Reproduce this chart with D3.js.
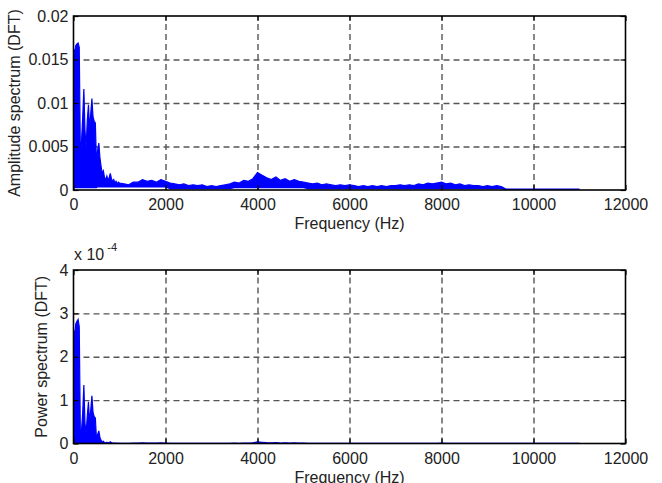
<!DOCTYPE html>
<html>
<head>
<meta charset="utf-8">
<script src="https://cdn.jsdelivr.net/npm/d3@7/dist/d3.min.js"></script>
<style>
  html, body { margin: 0; padding: 0; background: #fff; }
  svg { display: block; }
  text { font-family: "Liberation Sans", Arial, sans-serif; fill: #222; }
</style>
</head>
<body>
<svg id="chart" width="662" height="483"></svg>
<script>
// ---------------- data ----------------
const freq = [0,25,50,75,100,125,150,175,200,225,250,275,300,325,350,375,400,425,450,475,500,525,550,575,600,625,650,675,700,725,750,775,800,825,850,875,900,925,950,975,1000,
  1100,1200,1300,1400,1500,1600,1700,1800,1900,2000,
  2100,2200,2300,2400,2500,2600,2700,2800,2900,3000,
  3100,3200,3300,3400,3500,3600,3700,3800,3900,4000,
  4100,4200,4300,4400,4500,4600,4700,4800,4900,5000,
  5100,5200,5300,5400,5500,5600,5700,5800,5900,6000,
  6100,6200,6300,6400,6500,6600,6700,6800,6900,7000,
  7100,7200,7300,7400,7500,7600,7700,7800,7900,8000,
  8100,8200,8300,8400,8500,8600,8700,8800,8900,9000,
  9100,9200,9300,9400,9500,9600,9700,9800,9900,10000,
  10100,10200,10300,10400,10500,10600,10700,10800,10900,11000];

// amplitude spectrum: upper envelope of the dense trace
const ampHigh = [0.0162,0.0158,0.0166,0.0168,0.0169,0.0164,0.0038,0.0056,0.0084,0.0116,0.0068,0.0049,0.0080,0.0098,0.0070,0.0088,0.0105,0.0084,0.0079,0.0077,0.0030,0.0046,0.0054,0.0037,0.0027,0.0019,0.0022,0.0014,0.0012,0.0016,0.0011,0.0014,0.0019,0.0013,0.0010,0.0012,0.0008,0.0010,0.0007,0.0009,0.0008,
  0.0007,0.0006,0.0009,0.0009,0.0012,0.0010,0.0011,0.0009,0.0012,0.0010,
  0.0008,0.0007,0.0006,0.0007,0.0005,0.0006,0.0005,0.0006,0.0004,0.0005,
  0.0004,0.0005,0.0006,0.0007,0.0009,0.0008,0.0011,0.0010,0.0013,0.0020,
  0.0017,0.0014,0.0012,0.0015,0.0011,0.0013,0.0010,0.0012,0.0010,0.0009,
  0.0008,0.0007,0.0008,0.0006,0.0007,0.0006,0.0005,0.0006,0.0005,0.0006,
  0.0005,0.0004,0.0005,0.0004,0.0005,0.0004,0.0005,0.0004,0.0005,0.0005,
  0.0006,0.0005,0.0006,0.0005,0.0007,0.0006,0.0008,0.0007,0.0008,0.0009,
  0.0007,0.0008,0.0006,0.0007,0.0005,0.0006,0.0005,0.0005,0.0004,0.0005,
  0.0004,0.0005,0.0004,0.0001,0.0001,0.0001,0.0001,0.0001,0.0001,0.0001,
  0.0001,0.0001,0.0001,0.0001,0.0001,0.0001,0.0001,0.0001,0.0001,0.0001];

// amplitude spectrum: lower envelope of the dense trace
const ampLow = [0.0002,0.0002,0.0002,0.0002,0.0002,0.0002,0.0002,0.0002,0.0002,0.0002,0.0002,0.0002,0.0002,0.0002,0.0002,0.0002,0.0002,0.0002,0.0002,0.0002,0.0002,0.0003,0.0003,0.0003,0.0003,0.0003,0.0003,0.0003,0.0003,0.0003,0.0003,0.0003,0.0003,0.0003,0.0003,0.0003,0.0003,0.0003,0.0003,0.0003,0.0003,
  0.0003,0.0003,0.0003,0.0003,0.0003,0.0003,0.0003,0.0003,0.0003,0.0003,
  0.0001,0.0001,0.0001,0.0001,0.0001,0.0001,0.0001,0.0001,0.0001,0.0001,
  0.0001,0.0001,0.0001,0.0001,0.0002,0.0002,0.0002,0.0002,0.0002,0.0002,
  0.0002,0.0002,0.0002,0.0002,0.0002,0.0002,0.0002,0.0002,0.0002,0.0002,
  0.0001,0.0001,0.0001,0.0001,0.0001,0.0001,0.0001,0.0001,0.0001,0.0001,
  0.0001,0.0001,0.0001,0.0001,0.0001,0.0001,0.0001,0.0001,0.0001,0.0001,
  0.0001,0.0001,0.0001,0.0001,0.0001,0.0001,0.0001,0.0001,0.0001,0.0001,
  0.0001,0.0001,0.0001,0.0001,0.0001,0.0001,0.0001,0.0001,0.0001,0.0001,
  0.0001,0.0001,0.0001,0,0,0,0,0,0,0,
  0,0,0,0,0,0,0,0,0,0];

// power spectrum (units of 1e-4): upper envelope
const powHigh = [2.62,2.50,2.76,2.82,2.86,2.69,0.14,0.31,0.71,1.35,0.46,0.24,0.64,0.96,0.49,0.77,1.10,0.71,0.62,0.59,0.09,0.21,0.29,0.14,0.07,0.04,0.05,0.02,0.01,0.03,0.01,0.02,0.04,0.02,0.01,0.01,0.01,0.01,0.005,0.008,0.006,
  0.005,0.004,0.008,0.008,0.014,0.010,0.012,0.008,0.014,0.010,
  0.006,0.005,0.004,0.005,0.003,0.004,0.003,0.004,0.002,0.003,
  0.002,0.003,0.004,0.005,0.008,0.006,0.012,0.010,0.017,0.040,
  0.029,0.020,0.014,0.023,0.012,0.017,0.010,0.014,0.010,0.008,
  0.006,0.005,0.006,0.004,0.005,0.004,0.003,0.004,0.003,0.004,
  0.003,0.002,0.003,0.002,0.003,0.002,0.003,0.002,0.003,0.003,
  0.004,0.003,0.004,0.003,0.005,0.004,0.006,0.005,0.006,0.008,
  0.005,0.006,0.004,0.005,0.003,0.004,0.003,0.003,0.002,0.003,
  0.002,0.003,0.002,0.001,0.001,0.001,0.001,0.001,0.001,0.001,
  0.001,0.001,0.001,0.001,0.001,0.001,0.001,0.001,0.001,0.001];

const xTicks = [0,2000,4000,6000,8000,10000,12000];
const ampTicks = [0,0.005,0.01,0.015,0.02];
const ampTickLabels = ["0","0.005","0.01","0.015","0.02"];
const powTicks = [0,1,2,3,4];
const powTickLabels = ["0","1","2","3","4"];

// ---------------- drawing ----------------
const svg = d3.select("#chart");
const L = 73.5, R = 625.5, W = R - L;
const BLUE = "#0000ff";
const FS = "16px";

function panel(top, bottom, yMax, yTicks, yLabels, series, yLabel, yLabelX) {
  const h = bottom - top;
  const g = svg.append("g").attr("transform", `translate(${L},${top})`);
  const x = d3.scaleLinear().domain([0, 12000]).range([0, W]);
  const y = d3.scaleLinear().domain([0, yMax]).range([h, 0]);

  // grid
  const gridX = g.append("g").attr("transform", `translate(0,${h})`)
    .call(d3.axisBottom(x).tickValues(xTicks.slice(1, -1)).tickSize(-h).tickFormat(""));
  const gridY = g.append("g")
    .call(d3.axisLeft(y).tickValues(yTicks.slice(1, -1)).tickSize(-W).tickFormat(""));
  [gridX, gridY].forEach(gg => {
    gg.select(".domain").remove();
    gg.selectAll("line").attr("stroke", "#555").attr("stroke-width", 1.4)
      .attr("stroke-dasharray", "6,4");
  });

  // data
  const area = d3.area()
    .x(d => x(d.f)).y0(d => y(d.lo)).y1(d => y(d.hi));
  const line = d3.line().x(d => x(d.f)).y(d => y(d.hi));
  g.append("path").datum(series).attr("d", area).attr("fill", BLUE).attr("stroke", "none");
  g.append("path").datum(series).attr("d", line).attr("fill", "none")
    .attr("stroke", BLUE).attr("stroke-width", 1.2);

  // box
  g.append("rect").attr("x", 0).attr("y", 0).attr("width", W).attr("height", h)
    .attr("fill", "none").attr("stroke", "#000").attr("stroke-width", 1.6);

  // axes with inward ticks
  const styleAxis = (a) => {
    a.select(".domain").remove();
    a.selectAll("line").attr("stroke", "#000").attr("stroke-width", 1.2);
    a.selectAll("text").style("font-size", FS).attr("fill", "#222")
      .style("font-family", '"Liberation Sans", Arial, sans-serif');
  };
  const ax = g.append("g").attr("transform", `translate(0,${h})`)
    .call(d3.axisBottom(x).tickValues(xTicks).tickSizeInner(-5).tickSizeOuter(0).tickPadding(9).tickFormat(d3.format("d")));
  styleAxis(ax);
  const axTop = g.append("g")
    .call(d3.axisTop(x).tickValues(xTicks).tickSizeInner(-5).tickSizeOuter(0).tickFormat(""));
  styleAxis(axTop);
  const ay = g.append("g")
    .call(d3.axisLeft(y).tickValues(yTicks).tickSizeInner(-5).tickSizeOuter(0).tickPadding(5)
      .tickFormat((d, i) => yLabels[i]));
  styleAxis(ay);
  const ayR = g.append("g").attr("transform", `translate(${W},0)`)
    .call(d3.axisRight(y).tickValues(yTicks).tickSizeInner(-5).tickSizeOuter(0).tickFormat(""));
  styleAxis(ayR);

  // labels
  svg.append("text").attr("x", L + W / 2).attr("y", bottom + 39)
    .attr("text-anchor", "middle").style("font-size", FS).text("Frequency (Hz)");
  svg.append("text")
    .attr("transform", `translate(${yLabelX},${(top + bottom) / 2}) rotate(-90)`)
    .attr("text-anchor", "middle").style("font-size", FS).text(yLabel);
  return g;
}

const ampSeries = freq.map((f, i) => ({ f, hi: ampHigh[i], lo: ampLow[i] }));
const powSeries = freq.map((f, i) => ({ f, hi: powHigh[i], lo: 0 }));

panel(16, 190, 0.02, ampTicks, ampTickLabels, ampSeries, "Amplitude spectrum (DFT)", 20);
panel(270, 443.5, 4, powTicks, powTickLabels, powSeries, "Power spectrum (DFT)", 47);

// exponent label
const ex = svg.append("text").attr("x", 74).attr("y", 260).style("font-size", FS);
ex.append("tspan").text("x 10");
ex.append("tspan").attr("dx", 3).attr("dy", -9).style("font-size", "11px").text("-4");
</script>
</body>
</html>
